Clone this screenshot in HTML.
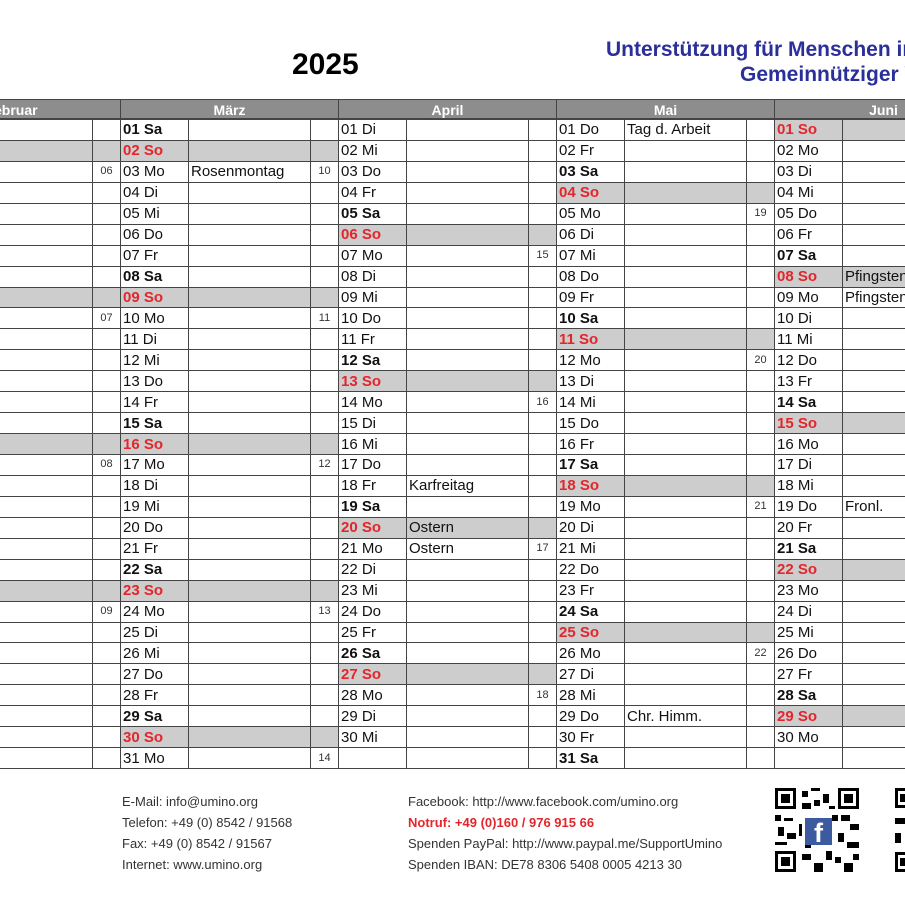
<!DOCTYPE html>
<html style="overflow:hidden"><head><meta charset="utf-8"><style>
body{margin:0;width:905px;height:905px;overflow:hidden;background:#fff;position:relative;font-family:"Liberation Sans",sans-serif}
#wrap{position:absolute;left:0;top:0;width:905px;height:905px;overflow:hidden}
.ab{position:absolute;white-space:nowrap}
table{position:absolute;left:-98px;top:119px;border-collapse:collapse;table-layout:fixed;width:1003px}
td{border:1px solid #444;height:19.94px;padding:0 0 0 2px;font-size:15px;line-height:19px;color:#111;white-space:nowrap;overflow:hidden}
td.w{font-size:11px;text-align:center;padding:0;color:#333}
td.b{font-weight:bold}
td.r{font-weight:bold;color:#e3262b}
td.g{background:#cdcdcd}
.hd{position:absolute;top:99px;height:20px;background:#8d8d8d;color:#fff;font-weight:bold;font-size:14px;line-height:20px;text-align:center;border:1px solid #444;box-sizing:border-box}
.f{font-size:13px;color:#333;line-height:21px}
</style></head><body><div id="wrap">
<div class="ab" style="left:292px;top:48px;font-size:30px;font-weight:bold;color:#000">2025</div>
<div class="ab" style="left:606px;top:38px;font-size:21px;font-weight:bold;color:#2a2f9a">Unterstützung für Menschen in Not</div>
<div class="ab" style="left:740px;top:63px;font-size:21px;font-weight:bold;color:#2a2f9a">Gemeinnütziger Verein</div>
<div class="hd" style="left:-98px;width:219px">Februar</div>
<div class="hd" style="left:120px;width:219px">März</div>
<div class="hd" style="left:338px;width:219px">April</div>
<div class="hd" style="left:556px;width:219px">Mai</div>
<div class="hd" style="left:774px;width:219px">Juni</div>
<table>
<colgroup><col style="width:68px"><col style="width:122px"><col style="width:28px"><col style="width:68px"><col style="width:122px"><col style="width:28px"><col style="width:68px"><col style="width:122px"><col style="width:28px"><col style="width:68px"><col style="width:122px"><col style="width:28px"><col style="width:68px"><col style="width:63px"></colgroup>
<tr><td class="b">01 Sa</td><td></td><td class="w"></td><td class="b">01 Sa</td><td></td><td class="w"></td><td>01 Di</td><td></td><td class="w"></td><td>01 Do</td><td>Tag d. Arbeit</td><td class="w"></td><td class="r g">01 So</td><td class="g"></td></tr>
<tr><td class="r g">02 So</td><td class="g"></td><td class="w g"></td><td class="r g">02 So</td><td class="g"></td><td class="w g"></td><td>02 Mi</td><td></td><td class="w"></td><td>02 Fr</td><td></td><td class="w"></td><td>02 Mo</td><td></td></tr>
<tr><td>03 Mo</td><td></td><td class="w">06</td><td>03 Mo</td><td>Rosenmontag</td><td class="w">10</td><td>03 Do</td><td></td><td class="w"></td><td class="b">03 Sa</td><td></td><td class="w"></td><td>03 Di</td><td></td></tr>
<tr><td>04 Di</td><td></td><td class="w"></td><td>04 Di</td><td></td><td class="w"></td><td>04 Fr</td><td></td><td class="w"></td><td class="r g">04 So</td><td class="g"></td><td class="w g"></td><td>04 Mi</td><td></td></tr>
<tr><td>05 Mi</td><td></td><td class="w"></td><td>05 Mi</td><td></td><td class="w"></td><td class="b">05 Sa</td><td></td><td class="w"></td><td>05 Mo</td><td></td><td class="w">19</td><td>05 Do</td><td></td></tr>
<tr><td>06 Do</td><td></td><td class="w"></td><td>06 Do</td><td></td><td class="w"></td><td class="r g">06 So</td><td class="g"></td><td class="w g"></td><td>06 Di</td><td></td><td class="w"></td><td>06 Fr</td><td></td></tr>
<tr><td>07 Fr</td><td></td><td class="w"></td><td>07 Fr</td><td></td><td class="w"></td><td>07 Mo</td><td></td><td class="w">15</td><td>07 Mi</td><td></td><td class="w"></td><td class="b">07 Sa</td><td></td></tr>
<tr><td class="b">08 Sa</td><td></td><td class="w"></td><td class="b">08 Sa</td><td></td><td class="w"></td><td>08 Di</td><td></td><td class="w"></td><td>08 Do</td><td></td><td class="w"></td><td class="r g">08 So</td><td class="g">Pfingsten</td></tr>
<tr><td class="r g">09 So</td><td class="g"></td><td class="w g"></td><td class="r g">09 So</td><td class="g"></td><td class="w g"></td><td>09 Mi</td><td></td><td class="w"></td><td>09 Fr</td><td></td><td class="w"></td><td>09 Mo</td><td>Pfingsten</td></tr>
<tr><td>10 Mo</td><td></td><td class="w">07</td><td>10 Mo</td><td></td><td class="w">11</td><td>10 Do</td><td></td><td class="w"></td><td class="b">10 Sa</td><td></td><td class="w"></td><td>10 Di</td><td></td></tr>
<tr><td>11 Di</td><td></td><td class="w"></td><td>11 Di</td><td></td><td class="w"></td><td>11 Fr</td><td></td><td class="w"></td><td class="r g">11 So</td><td class="g"></td><td class="w g"></td><td>11 Mi</td><td></td></tr>
<tr><td>12 Mi</td><td></td><td class="w"></td><td>12 Mi</td><td></td><td class="w"></td><td class="b">12 Sa</td><td></td><td class="w"></td><td>12 Mo</td><td></td><td class="w">20</td><td>12 Do</td><td></td></tr>
<tr><td>13 Do</td><td></td><td class="w"></td><td>13 Do</td><td></td><td class="w"></td><td class="r g">13 So</td><td class="g"></td><td class="w g"></td><td>13 Di</td><td></td><td class="w"></td><td>13 Fr</td><td></td></tr>
<tr><td>14 Fr</td><td></td><td class="w"></td><td>14 Fr</td><td></td><td class="w"></td><td>14 Mo</td><td></td><td class="w">16</td><td>14 Mi</td><td></td><td class="w"></td><td class="b">14 Sa</td><td></td></tr>
<tr><td class="b">15 Sa</td><td></td><td class="w"></td><td class="b">15 Sa</td><td></td><td class="w"></td><td>15 Di</td><td></td><td class="w"></td><td>15 Do</td><td></td><td class="w"></td><td class="r g">15 So</td><td class="g"></td></tr>
<tr><td class="r g">16 So</td><td class="g"></td><td class="w g"></td><td class="r g">16 So</td><td class="g"></td><td class="w g"></td><td>16 Mi</td><td></td><td class="w"></td><td>16 Fr</td><td></td><td class="w"></td><td>16 Mo</td><td></td></tr>
<tr><td>17 Mo</td><td></td><td class="w">08</td><td>17 Mo</td><td></td><td class="w">12</td><td>17 Do</td><td></td><td class="w"></td><td class="b">17 Sa</td><td></td><td class="w"></td><td>17 Di</td><td></td></tr>
<tr><td>18 Di</td><td></td><td class="w"></td><td>18 Di</td><td></td><td class="w"></td><td>18 Fr</td><td>Karfreitag</td><td class="w"></td><td class="r g">18 So</td><td class="g"></td><td class="w g"></td><td>18 Mi</td><td></td></tr>
<tr><td>19 Mi</td><td></td><td class="w"></td><td>19 Mi</td><td></td><td class="w"></td><td class="b">19 Sa</td><td></td><td class="w"></td><td>19 Mo</td><td></td><td class="w">21</td><td>19 Do</td><td>Fronl.</td></tr>
<tr><td>20 Do</td><td></td><td class="w"></td><td>20 Do</td><td></td><td class="w"></td><td class="r g">20 So</td><td class="g">Ostern</td><td class="w g"></td><td>20 Di</td><td></td><td class="w"></td><td>20 Fr</td><td></td></tr>
<tr><td>21 Fr</td><td></td><td class="w"></td><td>21 Fr</td><td></td><td class="w"></td><td>21 Mo</td><td>Ostern</td><td class="w">17</td><td>21 Mi</td><td></td><td class="w"></td><td class="b">21 Sa</td><td></td></tr>
<tr><td class="b">22 Sa</td><td></td><td class="w"></td><td class="b">22 Sa</td><td></td><td class="w"></td><td>22 Di</td><td></td><td class="w"></td><td>22 Do</td><td></td><td class="w"></td><td class="r g">22 So</td><td class="g"></td></tr>
<tr><td class="r g">23 So</td><td class="g"></td><td class="w g"></td><td class="r g">23 So</td><td class="g"></td><td class="w g"></td><td>23 Mi</td><td></td><td class="w"></td><td>23 Fr</td><td></td><td class="w"></td><td>23 Mo</td><td></td></tr>
<tr><td>24 Mo</td><td></td><td class="w">09</td><td>24 Mo</td><td></td><td class="w">13</td><td>24 Do</td><td></td><td class="w"></td><td class="b">24 Sa</td><td></td><td class="w"></td><td>24 Di</td><td></td></tr>
<tr><td>25 Di</td><td></td><td class="w"></td><td>25 Di</td><td></td><td class="w"></td><td>25 Fr</td><td></td><td class="w"></td><td class="r g">25 So</td><td class="g"></td><td class="w g"></td><td>25 Mi</td><td></td></tr>
<tr><td>26 Mi</td><td></td><td class="w"></td><td>26 Mi</td><td></td><td class="w"></td><td class="b">26 Sa</td><td></td><td class="w"></td><td>26 Mo</td><td></td><td class="w">22</td><td>26 Do</td><td></td></tr>
<tr><td>27 Do</td><td></td><td class="w"></td><td>27 Do</td><td></td><td class="w"></td><td class="r g">27 So</td><td class="g"></td><td class="w g"></td><td>27 Di</td><td></td><td class="w"></td><td>27 Fr</td><td></td></tr>
<tr><td>28 Fr</td><td></td><td class="w"></td><td>28 Fr</td><td></td><td class="w"></td><td>28 Mo</td><td></td><td class="w">18</td><td>28 Mi</td><td></td><td class="w"></td><td class="b">28 Sa</td><td></td></tr>
<tr><td></td><td></td><td class="w"></td><td class="b">29 Sa</td><td></td><td class="w"></td><td>29 Di</td><td></td><td class="w"></td><td>29 Do</td><td>Chr. Himm.</td><td class="w"></td><td class="r g">29 So</td><td class="g"></td></tr>
<tr><td></td><td></td><td class="w"></td><td class="r g">30 So</td><td class="g"></td><td class="w g"></td><td>30 Mi</td><td></td><td class="w"></td><td>30 Fr</td><td></td><td class="w"></td><td>30 Mo</td><td></td></tr>
<tr><td></td><td></td><td class="w"></td><td>31 Mo</td><td></td><td class="w">14</td><td></td><td></td><td class="w"></td><td class="b">31 Sa</td><td></td><td class="w"></td><td></td><td></td></tr>
</table>
<div class="ab f" style="left:122px;top:791px">E-Mail: info@umino.org<br>Telefon: +49 (0) 8542 / 91568<br>Fax: +49 (0) 8542 / 91567<br>Internet: www.umino.org</div>
<div class="ab f" style="left:408px;top:791px">Facebook: http://www.facebook.com/umino.org<br><b style="color:#e3262b">Notruf: +49 (0)160 / 976 915 66</b><br>Spenden PayPal: http://www.paypal.me/SupportUmino<br>Spenden IBAN: DE78 8306 5408 0005 4213 30</div>
<svg class="ab" style="left:775px;top:788px" width="84" height="84" viewBox="0 0 28 28">
<rect width="28" height="28" fill="#fff"/>
<g fill="#000">
<rect x="0" y="0" width="7" height="7"/><rect x="21" y="0" width="7" height="7"/><rect x="0" y="21" width="7" height="7"/>
<path d="M9 1h2v2h-2zM12 0h3v1h-3zM16 2h2v3h-2zM9 5h3v2h-3zM13 4h2v2h-2zM18 6h2v1h-2zM0 9h2v2h-2zM3 10h3v1h-3zM1 13h2v3h-2zM4 15h3v2h-3zM0 18h4v1h-4zM22 9h3v2h-3zM25 12h3v2h-3zM21 15h2v3h-2zM24 18h4v2h-4zM9 22h3v2h-3zM13 25h3v3h-3zM17 21h2v3h-2zM20 23h2v2h-2zM23 25h3v3h-3zM10 19h2v1h-2zM19 9h2v2h-2zM8 12h1v4h-1zM26 22h2v2h-2z"/>
</g>
<g fill="#fff"><rect x="1" y="1" width="5" height="5"/><rect x="22" y="1" width="5" height="5"/><rect x="1" y="22" width="5" height="5"/></g>
<g fill="#000"><rect x="2" y="2" width="3" height="3"/><rect x="23" y="2" width="3" height="3"/><rect x="2" y="23" width="3" height="3"/></g>
<rect x="10" y="10" width="9" height="9" fill="#3b5a9f"/>
<text x="14.5" y="18" font-family="Liberation Sans" font-weight="bold" font-size="9" fill="#fff" text-anchor="middle">f</text>
</svg>
<svg class="ab" style="left:895px;top:788px" width="10" height="84"><rect x="0" y="0" width="10" height="20" fill="#000"/><rect x="3" y="3" width="7" height="14" fill="#fff"/><rect x="5" y="6" width="5" height="8" fill="#000"/><rect x="0" y="30" width="10" height="6" fill="#000"/><rect x="0" y="45" width="6" height="10" fill="#000"/><rect x="0" y="64" width="10" height="20" fill="#000"/><rect x="3" y="67" width="7" height="14" fill="#fff"/><rect x="5" y="70" width="5" height="8" fill="#000"/></svg>
</div></body></html>
